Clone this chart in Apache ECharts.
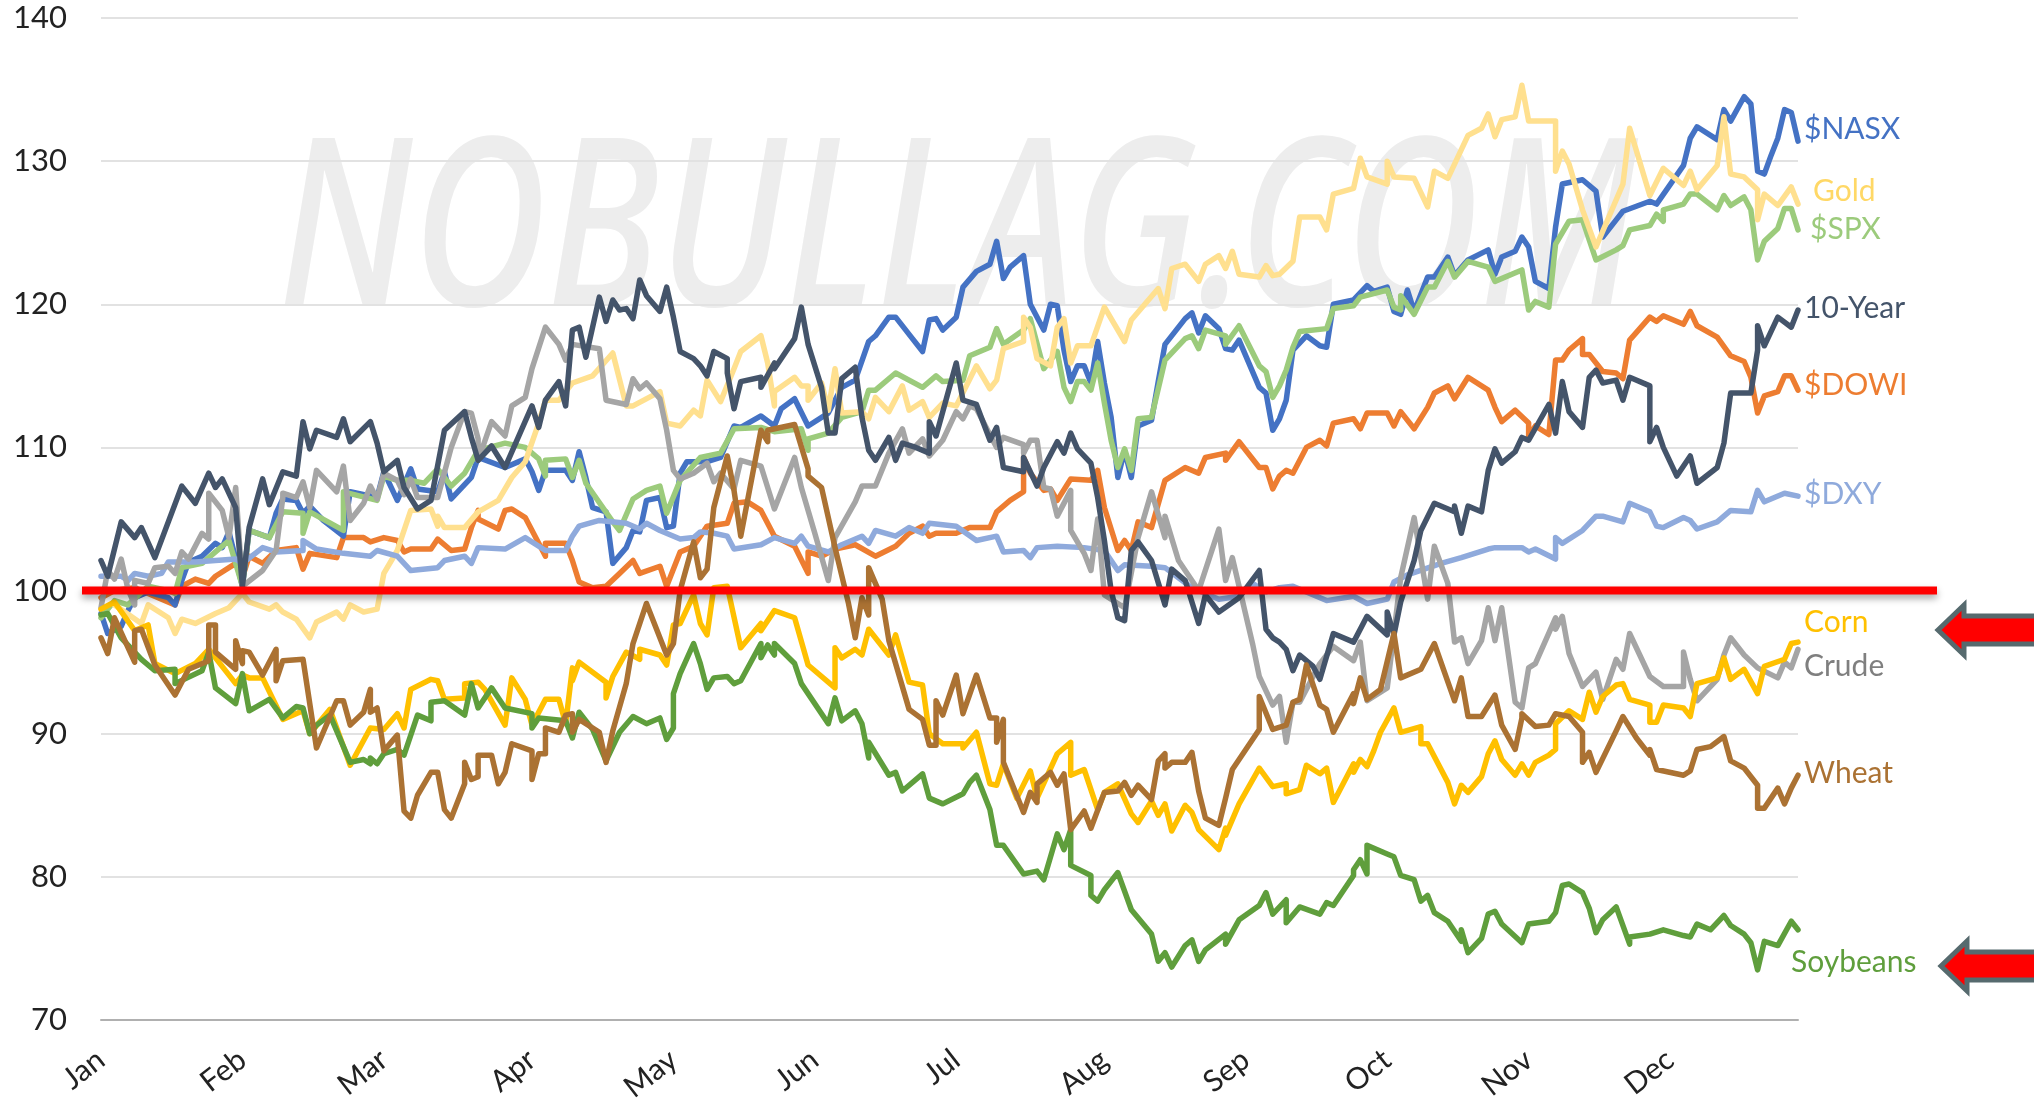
<!DOCTYPE html>
<html><head><meta charset="utf-8">
<script src="https://cdn.jsdelivr.net/npm/echarts@6/dist/echarts.min.js"></script>
<style>html,body{margin:0;padding:0;background:#fff}#c{width:2034px;height:1102px}</style></head>
<body><div id="c"></div>
<script>
const monthLabels=['Jan','Feb','Mar','Apr','May','Jun','Jul','Aug','Sep','Oct','Nov','Dec'];
const monthStartDays=[0,21,42,64,85,106,127,149,170,191,212,233];
const lastDay=252;
const yTicks={min:70,max:140,step:10};
const referenceLevel=100;

const nasx=[[0,98.4],[1,97],[3,97.5],[4,98.6],[5,99.5],[7,99.9],[10,99.5],[11,99],[12,100.7],[13,102],[15,102.4],[17,103.3],[18,103],[19,104.1],[21,100.3],[22,104.2],[25,103.7],[26,105.4],[27,106.4],[29,106.3],[30,105.4],[31,105.9],[33,104.9],[36,103.8],[37,106.9],[41,106.5],[42,108.3],[44,106.3],[46,108.5],[47,107.1],[50,106.9],[51,108.3],[52,106.4],[55,107.9],[56,109.3],[60,108.6],[63,109.2],[64,108.3],[65,107],[66,108.4],[69,108.4],[70,107.7],[71,109.7],[72,107.9],[73,105.8],[75,105.5],[76,101.9],[78,103],[79,104.2],[80,104.1],[81,106.3],[83,106.5],[84,104.4],[85,104.5],[86,108.2],[87,109],[90,109],[92,109.3],[94,111.5],[95,111.4],[98,112.2],[100,111.5],[101,112.7],[103,113.4],[105,111.5],[108,112.4],[110,114.2],[112,114.7],[114,117.4],[115,117.8],[117,119.1],[118,119.1],[120,117.9],[122,116.7],[123,118.9],[124,119],[125,118.2],[127,119.1],[128,121.2],[130,122.3],[132,122.8],[133,124.4],[134,121.8],[135,122.6],[137,123.4],[138,120],[140,118.2],[141,120],[142,119.9],[143,116.8],[144,114.6],[145,115.7],[146,115.7],[147,114.5],[148,117.4],[149,114.5],[150,112.1],[151,107.9],[152,109.8],[153,107.9],[154,111.5],[156,111.9],[157,114.6],[158,117.2],[161,119],[162,119.4],[163,118],[164,119.2],[166,118.3],[167,116.9],[168,116.8],[169,117.5],[172,114.2],[173,113.8],[174,111.2],[175,112],[176,113.3],[177,116.8],[179,117.8],[181,117.1],[182,117],[183,120],[186,120.3],[188,121.3],[189,120.9],[191,121.2],[192,119.5],[193,119.3],[194,121],[195,119.5],[197,121.9],[198,121.9],[200,123.3],[201,122],[203,123.1],[206,123.8],[207,122.1],[208,123.3],[210,123.7],[211,124.7],[212,124],[213,121.6],[215,121.1],[216,125.4],[217,128.4],[220,128.7],[222,127.9],[223,124.7],[225,125.9],[226,126.5],[230,127.2],[231,127],[235,129.7],[236,131.6],[237,132.4],[240,131.5],[241,133.6],[242,132.8],[244,134.5],[245,134],[246,129.3],[247,129.1],[248,130.4],[249,131.6],[250,133.6],[251,133.4],[252,131.4]];
const spx=[[0,98.1],[2,99.3],[4,99],[7,100.3],[10,100],[11,99.8],[12,101.6],[15,101.9],[17,102.7],[19,103.5],[21,100.3],[22,104.2],[25,103.7],[27,105.5],[30,105.4],[30,104],[31,105.5],[36,104.2],[36,106.9],[41,106.3],[42,108],[44,107.7],[46,107.7],[48,107.5],[50,108.5],[52,107.3],[54,108.2],[56,109.8],[60,110.3],[63,110],[65,109.2],[66,108],[66,109.1],[69,109.2],[70,107.9],[71,109.1],[72,107.5],[76,104.8],[77,104.2],[79,106.4],[81,107],[83,107.3],[84,105.4],[86,107.7],[89,109.3],[92,109.6],[94,111.3],[98,111.4],[100,111.1],[104,111.3],[105,109.8],[105,110.6],[108,111],[110,112.1],[113,112.5],[114,114],[115,114],[118,115.2],[122,114.2],[124,115],[125,114.6],[128,114.7],[129,116.4],[132,117],[133,118.3],[134,117.2],[137,118.2],[138,119],[140,115.5],[142,116.7],[143,114.2],[144,113.2],[145,114.6],[146,114.6],[147,114],[148,115.9],[149,113.1],[150,110.5],[151,108.6],[152,109.9],[153,108.4],[154,112],[156,112.1],[158,116.1],[161,117.6],[162,117.8],[163,116.9],[164,118.2],[167,117.8],[167,117.2],[169,118.5],[172,115.7],[173,115.3],[174,113.5],[175,114.3],[176,115.4],[177,117],[178,118.1],[182,118.3],[183,119.7],[186,119.9],[187,120.5],[191,121],[192,119.8],[193,119.6],[193,120.6],[195,119.3],[197,121.2],[198,121.2],[200,123],[201,121.9],[203,123],[206,122.6],[207,121.6],[211,122.4],[212,119.6],[213,120.2],[215,119.8],[216,124.2],[218,125.8],[220,125.9],[222,123.1],[225,123.8],[226,124.1],[227,125.2],[230,125.5],[231,126.3],[232,125.8],[232,126.6],[235,127],[236,127.7],[237,127.7],[240,126.6],[241,127.6],[242,126.9],[244,127.5],[245,126.6],[246,123.1],[246,123],[247,124.4],[249,125.3],[250,126.7],[251,126.7],[252,125.2]];
const gold=[[2,99],[6,97.7],[7,99],[10,98.1],[11,97],[12,98],[14,97.7],[17,98.4],[19,98.8],[21,99.8],[22,99.2],[25,98.7],[26,99],[27,98.5],[29,98],[31,96.7],[32,97.8],[35,98.5],[36,98],[37,99],[39,98.5],[41,98.7],[42,101.2],[44,102.8],[46,105.6],[49,105.7],[50,104.5],[50,105.2],[51,104.4],[54,104.4],[56,105.5],[59,106.3],[61,107.9],[63,109],[65,111.7],[66,113.3],[68,113.3],[70,114.5],[73,115],[76,116.6],[78,112.9],[79,112.9],[83,113.9],[84,111.7],[86,111.5],[88,112.6],[89,112.2],[90,114.7],[92,113.2],[94,115.5],[95,116.7],[98,117.8],[99,115.9],[100,112.9],[100,113.9],[103,114.9],[104,114.3],[105,114.3],[105,113.3],[107,114.5],[108,112.6],[109,115.5],[110,112.4],[113,112.5],[114,112],[115,113.5],[117,112.5],[119,114.3],[120,112.6],[122,113.2],[123,112.1],[125,113.1],[127,112.9],[130,115.7],[132,114.1],[133,114.7],[134,116.9],[137,117.4],[137,119.1],[138,118.4],[139,116.2],[141,115.7],[142,118.4],[143,119],[144,115.9],[145,117.1],[147,117.1],[149,119.8],[152,117.4],[153,118.9],[157,121.1],[158,119.7],[159,122.5],[161,122.8],[163,121.6],[164,122.8],[166,123.4],[167,122.5],[168,123.7],[169,122.1],[172,121.9],[173,122.7],[174,122],[175,122.1],[177,123],[178,126.1],[181,126.1],[182,125.2],[183,127.7],[186,128.1],[187,130.2],[188,128.9],[191,128.4],[191,130],[192,128.9],[195,128.8],[197,126.8],[198,129.3],[200,128.8],[203,131.8],[205,132.3],[206,133.3],[207,131.7],[208,132.9],[210,133.1],[211,135.3],[212,132.8],[216,132.8],[216,129.3],[217,130.7],[218,129.8],[220,126.6],[222,124],[226,128.4],[227,132.3],[230,127.6],[232,129.5],[235,128.3],[236,129.3],[237,128],[240,129.7],[241,133.1],[242,129.1],[244,128.9],[246,128],[246,125.9],[247,127.7],[249,126.9],[251,128.2],[252,127]];
const tenYear=[[0,102.1],[1,101],[3,104.8],[5,103.7],[6,104.4],[8,102.3],[12,107.3],[14,106.1],[16,108.2],[17,107.2],[18,107.8],[20,105.8],[21,100.3],[22,104.4],[24,107.8],[25,106],[27,108.3],[29,108],[30,111.8],[31,109.9],[32,111.2],[35,110.7],[36,112],[37,110.4],[40,111.8],[41,110.3],[42,108.3],[44,109.1],[45,107.2],[47,105.7],[49,106.3],[51,111.2],[54,112.5],[55,110.7],[56,109.1],[58,110.1],[60,108.6],[64,112.9],[65,111.4],[66,113.3],[68,114.6],[69,112.9],[70,118.2],[71,118.4],[72,116.3],[74,120.5],[75,118.8],[76,120.3],[77,119.6],[78,119.7],[79,119],[80,121.7],[81,120.6],[83,119.5],[84,121.2],[85,119.1],[86,116.7],[88,116.2],[89,115.7],[90,115],[91,116.7],[93,116.2],[93,115.2],[94,112.7],[95,114.6],[98,114.9],[98,114.2],[100,115.9],[100,115.5],[103,117.6],[104,119.8],[105,117.2],[107,114.2],[108,111],[109,111],[110,114.8],[112,115.6],[113,112.1],[114,109.8],[115,109.1],[117,110.7],[118,109.1],[119,110.3],[121,110],[123,109.6],[123,111.8],[124,110.8],[127,115.9],[128,113.3],[130,113],[132,110.5],[133,111.4],[134,108.6],[137,108.3],[137,109.3],[139,107.3],[140,108.6],[142,110.4],[143,109.6],[144,111],[145,109.9],[147,108.9],[148,106.5],[149,103.5],[150,100],[151,98.1],[152,97.9],[153,102.8],[154,103.4],[156,102.1],[158,99],[159,101.5],[161,100.7],[163,97.7],[164,99.7],[166,98.5],[169,99.5],[172,101.4],[173,97.3],[174,96.7],[175,96.4],[176,95.9],[177,94.4],[178,95.5],[180,94.7],[181,93.8],[183,97],[186,96.4],[188,98.2],[191,96.9],[191,98.5],[192,96.9],[193,99.2],[195,102.1],[196,104.2],[198,106.1],[201,105.5],[201,105.9],[202,104],[203,105.9],[205,105.5],[206,108.4],[207,109.9],[208,108.9],[210,109.7],[211,110.7],[212,110.5],[215,113],[216,111],[217,114.6],[218,112.5],[220,111.4],[221,114.9],[222,115.4],[223,114.5],[225,114.7],[226,113.3],[227,114.9],[230,114.3],[230,110.4],[231,111.4],[232,110],[234,108],[236,109.4],[237,107.5],[240,108.6],[241,110.3],[242,113.8],[245,113.8],[246,116.8],[246,118.5],[247,117.1],[249,119.1],[251,118.4],[252,119.6]];
const dowi=[[0,99.5],[2,100],[5,100.2],[7,99.8],[11,99],[12,100.3],[14,100.8],[16,100.5],[17,101],[20,101.9],[21,100.9],[22,102.4],[24,101.9],[26,102.8],[29,103],[30,101.5],[31,102.6],[35,102.3],[36,103.7],[39,103.7],[40,103.4],[42,103.7],[44,103.5],[45,102.7],[46,102.9],[49,102.9],[50,103.6],[52,102.8],[54,102.9],[55,104.4],[56,105.6],[56,105],[59,104.3],[60,105.6],[61,105.7],[63,105.1],[65,103.3],[66,102.4],[66,103.3],[69,103.3],[70,102.1],[71,100.6],[73,100.2],[75,100.3],[77,101.2],[79,102.1],[80,101.2],[83,101.7],[84,100.3],[86,102.7],[88,103.1],[90,104.5],[93,104.7],[94,106.1],[96,106.2],[98,105.6],[100,103.8],[103,103.1],[105,101.2],[105,102.7],[107,102.4],[109,102.9],[112,103.2],[115,102.4],[118,103.1],[120,104],[122,104.5],[123,103.8],[124,104],[127,104],[129,104.4],[132,104.4],[133,105.5],[135,106.3],[137,106.9],[137,109.3],[138,108.2],[140,107],[141,107.1],[142,106.3],[144,107.8],[147,107.7],[148,108.4],[149,105.8],[151,102.8],[152,103.5],[153,102.8],[154,104.8],[156,104.4],[158,107.7],[161,108.6],[163,108.2],[164,109.3],[167,109.6],[167,109.1],[169,110.4],[172,108.6],[173,108.6],[174,107.1],[175,108],[176,108.4],[177,108.2],[179,110],[181,110.5],[182,110.1],[183,111.7],[186,112],[187,111.3],[188,112.4],[191,112.4],[192,111.5],[193,112.5],[195,111.3],[197,112.8],[197,112.7],[198,113.8],[200,114.3],[201,113.4],[203,114.9],[206,114],[207,112.8],[208,111.8],[210,112.6],[212,111.7],[212,110.8],[213,111.5],[215,110.9],[216,116.1],[217,116.1],[218,116.8],[220,117.6],[220,116.5],[221,116.5],[223,115.3],[225,115.2],[226,114.8],[227,117.5],[230,119.1],[231,118.8],[232,119.2],[235,118.6],[236,119.5],[237,118.5],[240,117.7],[242,116.4],[244,116],[245,114.9],[246,112.4],[246,112.3],[247,113.6],[249,113.9],[250,115],[251,115],[252,114]];
const dxy=[[0,101],[3,101],[4,100.7],[5,101.2],[7,101],[9,101.2],[10,102],[14,102],[17,102.1],[20,102.2],[21,101.9],[24,103],[26,102.7],[30,102.8],[30,103.5],[32,102.9],[36,102.6],[40,102.4],[41,102.8],[44,102.4],[46,101.4],[50,101.6],[51,102.1],[54,102.4],[55,101.9],[56,103],[60,102.9],[63,103.7],[66,102.8],[69,102.8],[70,103.8],[71,104.5],[74,104.9],[78,104.7],[80,104.3],[81,104.7],[83,104.2],[86,103.6],[88,103.7],[89,104.1],[91,104],[93,103.8],[94,102.9],[98,103.2],[100,103.7],[103,103.3],[104,103.8],[105,103.1],[108,102.7],[110,103.2],[113,103.8],[114,103.3],[115,104.2],[118,103.8],[120,104.4],[122,104],[123,104.7],[127,104.5],[130,103.5],[133,103.8],[134,102.7],[137,102.8],[138,102.3],[139,103],[142,103.1],[146,103],[149,102.8],[151,101.4],[152,101.8],[156,101.7],[158,101.6],[160,100.9],[162,100.2],[166,99.4],[169,99.6],[171,100.5],[173,99.9],[175,100.2],[177,100.3],[179,99.9],[182,99.3],[186,99.6],[188,99.1],[191,99.4],[192,100.6],[194,101.1],[199,101.9],[202,102.3],[206,102.9],[207,103],[211,103],[212,102.7],[213,102.9],[216,102.2],[216,103.7],[217,103.3],[220,104.2],[222,105.2],[223,105.2],[226,104.8],[227,106.1],[230,105.5],[231,104.5],[232,104.4],[235,105.1],[236,104.9],[237,104.3],[240,104.8],[242,105.6],[245,105.5],[246,107],[247,106.2],[250,106.8],[252,106.6]];
const crude=[[0,98.8],[1,101.4],[2,100.8],[3,102.2],[4,100.1],[5,99],[5,100.7],[7,100.5],[8,101.6],[10,101.7],[11,101.2],[12,102.7],[13,102.2],[15,104],[16,103.6],[16,106.8],[18,105.6],[19,103.7],[20,107.2],[21,100.3],[24,101.4],[26,102.8],[27,106.5],[27,106.8],[29,106.5],[30,107.6],[31,105.8],[32,108.4],[35,106.9],[36,108.7],[37,104.9],[39,106.1],[40,107.3],[41,106.4],[42,108.2],[44,107.7],[45,106.7],[46,107.8],[47,106.5],[50,106.5],[52,110],[54,112.5],[55,112.4],[56,110.6],[56,109.1],[58,111.8],[60,110.8],[61,112.9],[63,113.5],[64,115.5],[66,118.4],[68,117.2],[69,116.1],[70,117.2],[74,116.9],[75,113.3],[78,113],[79,114.8],[80,114.1],[81,114.5],[83,113.4],[84,111.2],[85,108.4],[86,107.8],[88,108.2],[90,108.9],[91,107.6],[92,108.2],[94,107.1],[95,109.1],[98,108.7],[100,105.7],[103,109.3],[104,107.2],[106,104],[108,100.7],[109,103.7],[112,106.2],[113,107.3],[115,107.3],[117,109.6],[119,111.3],[120,109.6],[122,110.6],[123,109.4],[125,110.5],[127,112.5],[128,112],[129,112.9],[130,112.7],[133,110],[134,110.7],[137,110.2],[137,109.6],[138,110.5],[139,110.5],[140,107.2],[141,107.1],[142,105.2],[144,107],[144,104.2],[146,102.6],[147,101.4],[148,105],[149,99.7],[151,99.1],[152,98.8],[154,103.7],[156,106.9],[158,103.7],[158,105.2],[160,102.1],[163,100],[166,104.3],[167,100.7],[168,102.3],[171,96.3],[172,94],[174,92],[175,92.6],[176,89.4],[177,92.2],[178,92.2],[181,94.9],[183,96.1],[186,95.1],[187,96.4],[188,92.3],[191,93.2],[193,100.9],[195,105.1],[197,99.4],[198,103.1],[200,100.5],[201,96.4],[202,96.7],[203,94.9],[205,96.5],[206,98.8],[207,96.5],[208,98.8],[210,92.2],[211,91.8],[212,94.6],[213,94.9],[216,98.1],[216,97.3],[217,98.2],[218,95.6],[220,93.3],[222,94.3],[223,92.4],[225,95.2],[226,94.5],[227,97],[230,94],[232,93.3],[235,93.3],[235,95.7],[236,93.8],[237,92.3],[240,93.8],[241,95.5],[242,96.7],[244,95.5],[246,94.6],[249,93.9],[250,95],[251,94.6],[252,95.9]];
const corn=[[0,98.7],[2,99.2],[5,97.2],[7,97.6],[8,94.9],[11,94.2],[14,94.9],[16,95.9],[20,93.5],[21,94.1],[22,93.9],[24,93.9],[27,91],[30,91.6],[31,90],[34,91.7],[37,87.8],[40,90.4],[42,90.3],[44,91.4],[45,90.4],[46,93.1],[49,93.8],[50,93.7],[51,92.4],[54,92.5],[54,93.5],[56,93.6],[57,93.1],[60,90.6],[61,93.9],[63,92.4],[64,90.6],[66,92.4],[68,92.4],[69,90.7],[70,94.6],[70,93.7],[71,95],[75,93.6],[75,92.5],[76,94],[78,95.7],[80,95.2],[80,95.9],[83,95.5],[84,94.8],[85,97.6],[86,97.7],[88,99.7],[89,97.7],[90,96.9],[91,100.2],[93,100.3],[95,96],[98,97.7],[98,97.2],[100,98.6],[103,98.1],[105,94.8],[109,93.2],[109,96],[110,95.3],[112,95.9],[113,95.5],[114,97.3],[117,95.5],[118,96.9],[120,93.6],[122,93.4],[123,90],[125,89.3],[128,89.3],[128,89],[130,90.1],[132,86.5],[133,86.4],[134,87.9],[136,85.5],[138,87.4],[139,85.5],[142,88.6],[144,89.4],[144,87.1],[146,87.5],[148,84.7],[149,85.9],[151,86.5],[153,84.4],[154,83.8],[156,85.3],[157,84.3],[158,85.1],[159,83.2],[161,85],[162,84.5],[163,83.3],[166,81.9],[167,83.4],[167,82.9],[169,85.1],[172,87.6],[174,86.3],[176,86.5],[176,85.8],[178,86.1],[179,87.8],[181,87.2],[182,87.6],[183,85.2],[186,87.9],[186,87.3],[187,88.2],[188,87.7],[189,88.8],[190,90.1],[192,91.8],[193,90.1],[196,90.5],[196,89.3],[197,89.3],[200,86.6],[201,85.1],[202,86.4],[203,85.9],[205,87],[206,88.6],[207,89.5],[208,88.2],[210,87.1],[211,87.9],[212,87.1],[213,88],[215,88.5],[216,88.9],[216,90.7],[218,91.6],[220,91],[221,92.9],[222,91.5],[223,92.6],[225,93.4],[226,93.5],[227,92.4],[230,92],[230,90.8],[231,90.8],[232,92],[235,91.8],[236,91.2],[237,93.5],[240,93.9],[241,95.3],[242,93.8],[244,94.5],[246,92.8],[247,94.7],[250,95.2],[251,96.3],[252,96.4]];
const soybeans=[[0,98.3],[1,98.4],[3,96.7],[6,95.2],[8,94.4],[11,94.5],[11,93.5],[15,94.4],[16,95.7],[17,93.2],[20,92.1],[21,94.2],[22,91.6],[25,92.4],[27,91.1],[29,91.9],[30,91.8],[31,90],[32,90.6],[34,91.3],[37,88],[39,88.2],[40,87.9],[40,88.3],[41,87.9],[42,88.6],[44,88.9],[45,88.5],[47,91.3],[49,90.9],[49,92.2],[51,92.3],[54,91.3],[55,93.5],[56,91.8],[58,93.2],[60,91.8],[64,91.4],[64,90.4],[65,91.1],[69,90.9],[70,89.7],[71,91.5],[73,90.3],[75,88.1],[77,90.1],[79,91.2],[81,90.7],[83,91.1],[84,89.6],[85,90.4],[85,92.8],[86,94.2],[88,96.3],[89,94.9],[90,93.1],[91,93.9],[93,94],[94,93.5],[95,93.7],[98,96.3],[98,95.3],[99,96.2],[100,95.5],[100,96.3],[103,94.9],[104,93.5],[108,90.7],[109,92.5],[110,90.9],[112,91.6],[113,90.7],[114,88.3],[114,89.4],[117,87.1],[118,87.3],[119,86],[122,87.2],[123,85.5],[125,85.1],[128,85.8],[129,86.6],[130,87.1],[132,84.7],[133,82.2],[134,82.2],[137,80.2],[139,80.4],[140,79.8],[142,83],[143,81.9],[144,83.3],[144,80.8],[147,80.1],[147,78.7],[148,78.3],[149,79.1],[151,80.3],[153,77.7],[156,76],[157,74.1],[158,74.7],[159,73.7],[161,75.2],[162,75.6],[163,74.1],[164,74.9],[167,76],[167,75.3],[169,77],[172,78],[173,78.9],[174,77.4],[176,78.4],[176,76.8],[178,77.9],[181,77.4],[182,78.2],[183,78],[186,80.1],[186,80.5],[187,81.2],[188,80.2],[188,82.2],[191,81.6],[192,81.4],[193,80.1],[195,79.8],[196,78.3],[197,78.7],[198,77.5],[200,76.9],[202,75.5],[202,76.3],[203,74.7],[205,75.7],[206,77.4],[207,77.6],[208,76.7],[211,75.4],[212,76.7],[215,76.9],[216,77.5],[217,79.4],[218,79.5],[220,78.9],[221,77.8],[221,77.7],[222,76.1],[223,77],[225,77.9],[227,75.3],[227,75.8],[230,76],[232,76.3],[235,75.9],[236,75.8],[237,76.7],[239,76.3],[241,77.3],[242,76.6],[244,76],[245,75.4],[246,73.5],[247,75.5],[249,75.2],[251,76.9],[252,76.3]];
const wheat=[[0,96.7],[1,95.6],[2,98.1],[5,95],[5,97.2],[6,97.3],[8,94.8],[11,92.7],[11,92.8],[13,94.5],[16,95.1],[16,97.6],[17,97.6],[17,95.7],[20,94.5],[20,96.5],[21,94.9],[21,95.8],[22,95.7],[24,94.1],[26,95.9],[26,93.7],[27,95.1],[30,95.2],[32,89],[35,92.3],[36,92.3],[37,90.6],[39,91.5],[40,93.1],[40,91.5],[41,91.8],[42,88.8],[44,89.9],[45,84.6],[46,84.1],[47,85.7],[49,87.3],[50,87.3],[51,84.7],[52,84.1],[54,86.5],[54,88],[55,86.8],[56,87],[56,88.5],[58,88.5],[59,86.5],[60,87.3],[61,89.3],[64,88.8],[64,86.8],[65,88.6],[66,88.6],[66,90.4],[68,90.1],[69,91.3],[70,91.4],[70,90.1],[71,91],[74,90.1],[75,88],[75,88],[76,90.2],[78,93.5],[79,96.3],[81,99.1],[84,95.5],[85,96.3],[86,100],[88,103.4],[89,100.9],[90,101.5],[91,105.8],[93,109.4],[94,107],[95,103.8],[98,111.2],[99,110.4],[99,111.2],[103,111.6],[105,108.5],[105,108],[107,107.2],[109,103],[111,99.1],[112,96.7],[113,99.5],[114,98.3],[114,101.6],[116,99.4],[117,96.5],[120,91.7],[122,91],[123,89.2],[124,89.2],[124,92.3],[125,91.3],[127,94.1],[128,91.4],[130,94.1],[132,91.1],[133,91.1],[133,89.4],[134,91],[134,88],[137,84.5],[138,85.9],[139,85.2],[139,86.5],[141,87.3],[142,86.4],[143,87.2],[144,83.3],[146,84.6],[147,83.4],[149,85.9],[151,86],[152,86.6],[153,85.7],[154,86.4],[156,85.4],[157,88.1],[158,88.6],[158,87.6],[159,88],[161,88],[162,88.7],[163,86],[164,84.1],[166,83.6],[167,85.5],[168,87.5],[172,90.3],[172,92.6],[174,90.3],[176,90.6],[177,92.2],[178,92.4],[179,94.8],[181,92],[182,91.7],[183,90.1],[186,92.8],[186,92.1],[187,93.9],[188,92.4],[190,93.1],[192,97],[193,93.9],[196,94.5],[198,96.3],[201,92.3],[202,93.9],[203,91.2],[205,91.2],[207,92.7],[208,90.6],[210,88.9],[211,91.1],[211,91.4],[213,90.5],[215,90.6],[216,91.4],[218,91.2],[220,90.1],[220,88],[221,88.7],[222,87.3],[225,90.2],[226,91.2],[228,89.7],[230,88.5],[230,88.9],[231,87.5],[235,87.1],[236,87.4],[237,88.9],[239,89.1],[241,89.8],[242,88.1],[244,87.6],[246,86.4],[246,84.8],[247,84.8],[249,86.2],[250,85.1],[251,86.2],[252,87.1]];

const seriesSpec=[
 {name:'$DOWI',data:dowi,color:'#ED7D31',off:[-2,-5],lab:'#ED7D31'},
 {name:'$NASX',data:nasx,color:'#4472C4',off:[-2,-12],lab:'#4472C4'},
 {name:'$SPX',data:spx,color:'#9CCB7C',off:[4,-1],lab:'#9CCB7C'},
 {name:'Gold',data:gold,color:'#FFE08F',off:[7,-13],lab:'#FFD866'},
 {name:'$DXY',data:dxy,color:'#8FAADC',off:[-2,-2],lab:'#8FAADC'},
 {name:'Crude',data:crude,color:'#A5A5A5',off:[-2,17],lab:'#7F7F7F'},
 {name:'10-Year',data:tenYear,color:'#44546A',off:[-2,-2],lab:'#44546A'},
 {name:'Corn',data:corn,color:'#FFC000',off:[-2,-20],lab:'#FFC000'},
 {name:'Soybeans',data:soybeans,color:'#5F9E3C',off:[-15,33],lab:'#5F9E3C'},
 {name:'Wheat',data:wheat,color:'#AB7233',off:[-2,-2],lab:'#AB7233'}
];

const days=[];
for(let d=0;d<=lastDay;d++){
  let m=0; for(let i=0;i<monthStartDays.length;i++) if(d>=monthStartDays[i]) m=i;
  days.push(d===monthStartDays[m]?monthLabels[m]:monthLabels[m]+' +'+(d-monthStartDays[m]));
}
const FONT='Lato, "Noto Sans", sans-serif';
const chart=echarts.init(document.getElementById('c'),null,{renderer:'canvas'});
chart.setOption({
  animation:false,backgroundColor:'#fff',
  grid:{left:101,right:236,top:18,bottom:82,containLabel:false,outerBoundsMode:'none'},
  xAxis:{type:'category',data:days,boundaryGap:false,
    axisLine:{show:true,lineStyle:{color:'#B0B0B0',width:2}},axisTick:{show:false},splitLine:{show:false},
    axisLabel:{interval:(i)=>monthStartDays.includes(i),rotate:38,margin:36,hideOverlap:false,
      color:'#222',fontSize:30,letterSpacing:2,fontFamily:FONT}},
  yAxis:{type:'value',min:yTicks.min,max:yTicks.max,interval:yTicks.step,
    axisLine:{show:false},axisTick:{show:false},
    splitLine:{lineStyle:{color:'#E2E2E2',width:2}},
    axisLabel:{margin:34,color:'#222',fontSize:31,fontFamily:FONT}},
  series:seriesSpec.map((s,i)=>({
    name:s.name,type:'line',data:s.data,showSymbol:false,symbol:'none',smooth:false,z:3+i,clip:false,
    lineStyle:{color:s.color,width:5.5,join:'round',cap:'round'},itemStyle:{color:s.color},
    emphasis:{disabled:true},
    endLabel:{show:true,formatter:s.name,offset:s.off,color:s.lab,fontSize:30,fontFamily:FONT,letterSpacing:2}
  }))
});
const yRef=chart.convertToPixel({yAxisIndex:0},referenceLevel);
const arrow=(tipX,tipY)=>({type:'polygon',z:120,
  shape:{points:[[tipX,tipY],[tipX+26,tipY-25],[tipX+26,tipY-14],[2040,tipY-14],[2040,tipY+14],[tipX+26,tipY+14],[tipX+26,tipY+25]]},
  style:{fill:'#FF0000',stroke:'#566A6E',lineWidth:5,lineJoin:'miter'}});
chart.setOption({graphic:{elements:[
  {type:'text',z:-1,zlevel:0,x:278,y:122,scaleX:0.79,scaleY:1.0,
   style:{text:'NOBULLAG.COM',fill:'#EDEDED',font:'italic 500 235px "Noto Sans", sans-serif',
     shadowColor:'rgba(0,0,0,0.08)',shadowBlur:8,shadowOffsetX:3,shadowOffsetY:4},silent:true},
  {type:'rect',z:110,shape:{x:82,y:yRef-4,width:1855,height:8},
   style:{fill:'#FF0000',shadowColor:'rgba(0,0,0,0.35)',shadowBlur:7,shadowOffsetY:4},silent:true},
  arrow(1938,630),
  arrow(1941,966)
]}});
</script></body></html>
